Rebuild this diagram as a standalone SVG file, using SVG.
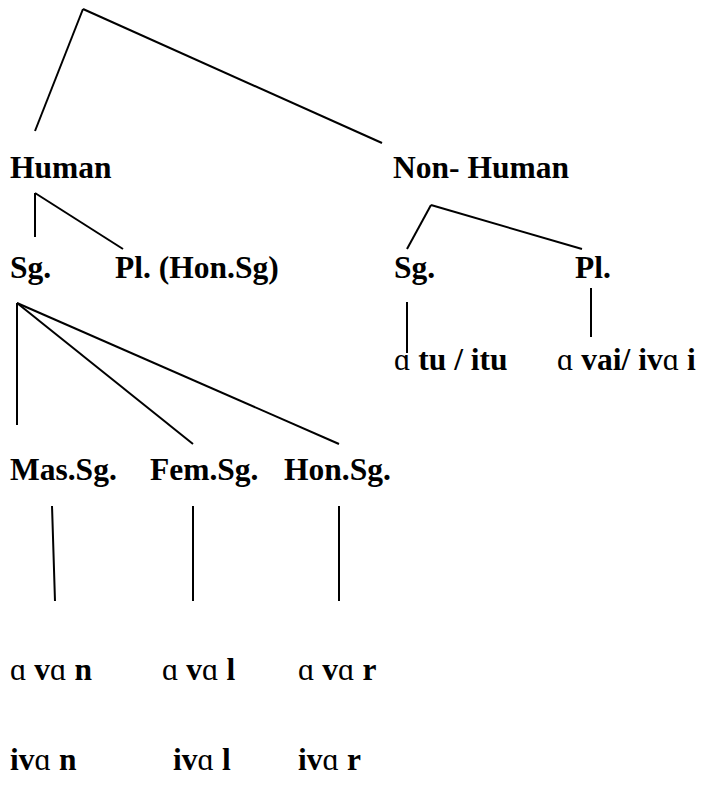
<svg xmlns="http://www.w3.org/2000/svg" width="702" height="787" viewBox="0 0 702 787">
<style>
text{font-family:'Liberation Serif','Times New Roman',serif;font-size:31.5px;font-weight:bold;fill:#000}
.n{font-weight:normal}
line{stroke:#000;stroke-width:2;stroke-linecap:butt}
</style>
<rect width="702" height="787" fill="#fff"/>
<g id="connectors">
<line x1="83" y1="9" x2="35" y2="131"/>
<line x1="83" y1="9" x2="382" y2="143"/>
<line x1="35" y1="193" x2="35" y2="237"/>
<line x1="35" y1="193" x2="123" y2="249"/>
<line x1="431" y1="205" x2="407" y2="249"/>
<line x1="431" y1="205" x2="582" y2="249"/>
<line x1="407" y1="302" x2="407" y2="353"/>
<line x1="591" y1="288" x2="591" y2="337"/>
<line x1="17" y1="303" x2="17" y2="425"/>
<line x1="17" y1="303" x2="193" y2="444"/>
<line x1="17" y1="303" x2="339" y2="444"/>
<line x1="52" y1="506" x2="55" y2="601"/>
<line x1="193" y1="506" x2="193" y2="601"/>
<line x1="339" y1="506" x2="339" y2="601"/>
</g>
<g id="human"><text x="10" y="178">Human</text></g>
<g id="nonhuman"><text x="393" y="178">Non- Human</text></g>
<g id="h-sg"><text x="10" y="278">Sg.</text></g>
<g id="h-pl"><text x="115" y="278">Pl. (Hon.Sg)</text></g>
<g id="nh-sg"><text x="394" y="278">Sg.</text></g>
<g id="nh-pl"><text x="575" y="278">Pl.</text></g>
<g id="nh-sg-form"><text x="394" y="370"><tspan class="n">ɑ</tspan> tu / itu</text></g>
<g id="nh-pl-form"><text x="557" y="370"><tspan class="n">ɑ</tspan> vai/ iv<tspan class="n">ɑ</tspan> i</text></g>
<g id="mas"><text x="10" y="480">Mas.Sg.</text></g>
<g id="fem"><text x="150" y="480">Fem.Sg.</text></g>
<g id="hon"><text x="284" y="480">Hon.Sg.</text></g>
<g id="mas-form1"><text x="10" y="680"><tspan class="n">ɑ</tspan> v<tspan class="n">ɑ</tspan> n</text></g>
<g id="fem-form1"><text x="162" y="680"><tspan class="n">ɑ</tspan> v<tspan class="n">ɑ</tspan> l</text></g>
<g id="hon-form1"><text x="298" y="680"><tspan class="n">ɑ</tspan> v<tspan class="n">ɑ</tspan> r</text></g>
<g id="mas-form2"><text x="10" y="770">iv<tspan class="n">ɑ</tspan> n</text></g>
<g id="fem-form2"><text x="173" y="770">iv<tspan class="n">ɑ</tspan> l</text></g>
<g id="hon-form2"><text x="298" y="770">iv<tspan class="n">ɑ</tspan> r</text></g>
</svg>
